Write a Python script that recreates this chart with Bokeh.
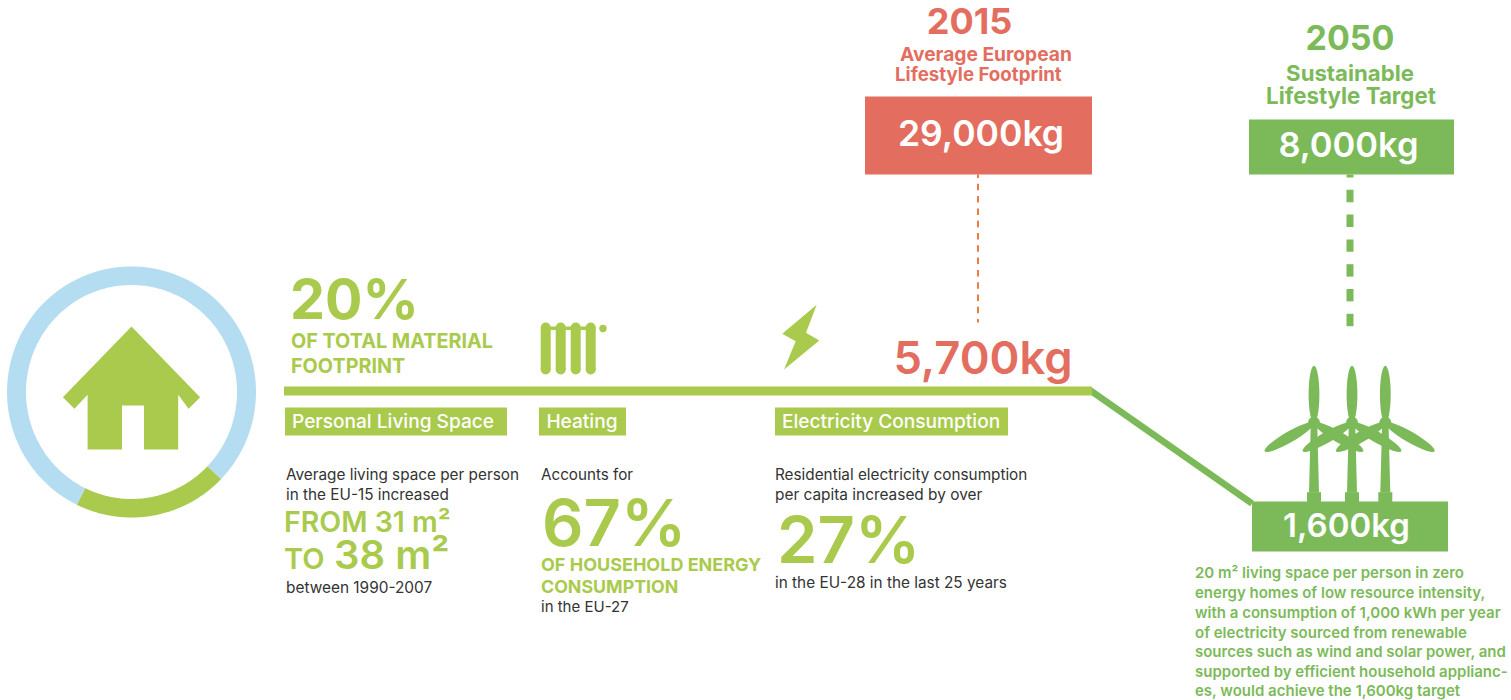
import math
import numpy as np
from bokeh.plotting import figure
from bokeh.embed import file_html
from bokeh.resources import INLINE
from bokeh.core.properties import value

# ---- data ----
material_share_pct = 20
footprint_2015_kg = 29000
housing_2015_kg = 5700
footprint_2050_kg = 8000
housing_2050_kg = 1600
heating_share_pct = 67
electricity_growth_pct = 27
space_from_m2 = 31
space_to_m2 = 38
section_titles = ["Personal Living Space", "Heating", "Electricity Consumption"]
target_note = [
    "20 m² living space per person in zero",
    "energy homes of low resource intensity,",
    "with a consumption of 1,000 kWh per year",
    "of electricity sourced from renewable",
    "sources such as wind and solar power, and",
    "supported by efficient household applianc-",
    "es, would achieve the 1,600kg target",
]

# ---- styles ----
LIME = "#A9CA4C"
GREEN = "#7CBA59"
SALMON = "#E36E5F"
BLUE = "#B5DDF2"
DASH = "#EA7C45"
INK = "#333333"
FONT = "Inter"
MEDIUM = "Inter Medium"
SEMI = "Inter SemiBold"
BASE_K = 0.40

p = figure(width=1511, height=700, x_range=(0.5, 1511.5), y_range=(0, 700),
           output_backend="svg", toolbar_location=None, min_border=0)
p.axis.visible = False
p.grid.visible = False
p.outline_line_color = None
p.background_fill_color = "white"


def Y(v):
    return 700 - np.asarray(v, dtype=float)


def box(x0, x1, y0, y1, color):
    p.quad(left=[x0], right=[x1], top=[Y(y0)], bottom=[Y(y1)], fill_color=color, line_color=None)


def poly(xs, ys, color):
    p.patch(list(xs), list(Y(ys)), fill_color=color, line_color=None)


def T(s, x, y, size, color, bold=False, align="left", font=FONT):
    p.text([x], [float(Y(y - BASE_K * size))], text=[s], text_font=value(font), text_font_size=f"{size}px",
           text_color=color, text_align=align, text_baseline="alphabetic",
           text_font_style="bold" if bold else "normal")


def ring(a0, a1, color, cx=131.5, cy=391.5):
    t = np.radians(np.linspace(a0, a1, 160))
    xo, yo = cx + 124.5 * np.cos(t), cy - 125.5 * np.sin(t)
    xi, yi = cx + 105.5 * np.cos(t[::-1]), cy - 107.0 * np.sin(t[::-1])
    poly(np.r_[xo, xi], np.r_[yo, yi], color)


def dashes(x, y_top, y_bot, first, dash, period, width, color):
    s = first - period
    xs, ys = [], []
    while s < y_bot:
        a, b = max(s, y_top), min(s + dash, y_bot)
        if b > a:
            xs.append([x, x])
            ys.append(list(Y([a, b])))
        s += period
    p.multi_line(xs, ys, line_color=color, line_width=width, line_cap="butt")


# ring: green arc is the material share
start = -116.0
sweep = 360 * material_share_pct / 100
ring(start + sweep, start + 360, BLUE)
ring(start, start + sweep, LIME)

# house
poly([131.5, 62.9, 74.4, 87.6, 87.6, 122, 122, 144, 144, 178.2, 178.2, 188.6, 200.1],
     [326, 396.7, 408.3, 394.3, 449, 449, 405, 405, 449, 449, 394.3, 408.3, 396.7], LIME)

# timeline
p.line([1089, 1252], Y([389, 503]), line_color=GREEN, line_width=6.5)
box(284, 1092, 386, 395, LIME)

# radiator
for cx in (545.7, 560.7, 575.7, 590.7):
    box(cx - 5, cx + 5, 327, 369, LIME)
    p.circle([cx, cx], Y([327, 369]), radius=5, fill_color=LIME, line_color=None)
box(546, 590, 326, 329.5, LIME)
p.circle([603], Y([328]), radius=3.7, fill_color=LIME, line_color=None)

# bolt
poly([816.7, 782.3, 795.7, 784, 819.3, 806], [304.3, 333.3, 340.7, 369, 340, 332.3], LIME)

# connectors
dashes(978, 174, 322, 183.3, 6.5, 12.3, 2, DASH)
dashes(1350, 174, 326, 189.3, 12.4, 24.8, 7, GREEN)

# value boxes
box(865, 1092, 96, 174, SALMON)
box(1249, 1454, 119, 174, GREEN)
box(1252, 1448, 501, 551, GREEN)

# section title boxes
box(285, 507, 407, 435, LIME)
box(539, 626, 407, 435, LIME)
box(775, 1008, 407, 435, LIME)

# turbines
L = 57
for hx in (1314, 1352, 1385.3):
    hy = 422.3
    poly([hx - 3.2, hx + 3.2, hx + 5, hx - 5], [hy, hy, 492, 492], GREEN)
    box(hx - 7, hx + 7, 491.7, 501.5, GREEN)
    for ang in (90, 210, 330):
        a = math.radians(ang)
        p.ellipse([hx + L / 2 * math.cos(a)], [float(Y(hy)) + L / 2 * math.sin(a)],
                  width=L, height=10.8, angle=a, fill_color=GREEN, line_color=None)
    p.circle([hx], Y([hy]), radius=6, fill_color=GREEN, line_color=None)

# headline text
T("2015", 969.5, 35, 36, SALMON, True, "center")
T("Average European", 900, 61, 19.2, SALMON, True)
T("Lifestyle Footprint", 895, 81, 18.7, SALMON, True)
T(f"{footprint_2015_kg:,}kg", 981, 146.7, 35.5, "white", False, "center", SEMI)
T("2050", 1350, 50.7, 34, GREEN, True, "center")
T("Sustainable", 1350, 81, 22.2, GREEN, True, "center")
T("Lifestyle Target", 1351, 103.7, 22.3, GREEN, True, "center")
T(f"{footprint_2050_kg:,}kg", 1348.5, 158, 34.5, "white", False, "center", SEMI)
T(f"{housing_2015_kg:,}kg", 983, 375, 45.3, SALMON, False, "center", SEMI)
T(f"{housing_2050_kg:,}kg", 1346.5, 537.7, 33, "white", False, "center", SEMI)

# column 1
T(f"{material_share_pct}%", 290, 320, 55.5, LIME, True)
T("OF TOTAL MATERIAL", 291, 348.5, 19.8, LIME, True)
T("FOOTPRINT", 291, 373.5, 19.8, LIME, True)
T(section_titles[0], 292, 428.3, 19.1, "white", False, font=MEDIUM)
T("Average living space per person", 286, 480, 15.3, INK)
T("in the EU-15 increased", 286, 500, 15.3, INK)
T(f"FROM {space_from_m2} m²", 284, 532, 28.5, LIME, False, font=SEMI)
T("TO", 284, 570, 29, LIME, False, font=SEMI)
T(f"{space_to_m2} m²", 334, 570, 40, LIME, False, font=SEMI)
T("between 1990-2007", 286, 592.7, 15.4, INK)

# column 2
T(section_titles[1], 546.4, 428.3, 19.1, "white", False, font=MEDIUM)
T("Accounts for", 541, 480, 15.2, INK)
T(f"{heating_share_pct}%", 542, 548.3, 65, LIME, False, font=SEMI)
T("OF HOUSEHOLD ENERGY", 541, 571, 18, LIME, True)
T("CONSUMPTION", 541, 593, 17.8, LIME, True)
T("in the EU-27", 541, 612, 15, INK)

# column 3
T(section_titles[2], 782, 428.3, 19.1, "white", False, font=MEDIUM)
T("Residential electricity consumption", 775, 480, 15.3, INK)
T("per capita increased by over", 775, 500, 15.4, INK)
T(f"{electricity_growth_pct}%", 777, 565, 65, LIME, False, font=SEMI)
T("in the EU-28 in the last 25 years", 775, 588, 15.35, INK)

# note
for line, base in zip(target_note, (578.3, 598.3, 618.3, 637.7, 657.3, 676.8, 696.3)):
    T(line, 1195, base, 15, GREEN, False, font=SEMI)

open("out.html", "w").write(file_html(p, INLINE))
